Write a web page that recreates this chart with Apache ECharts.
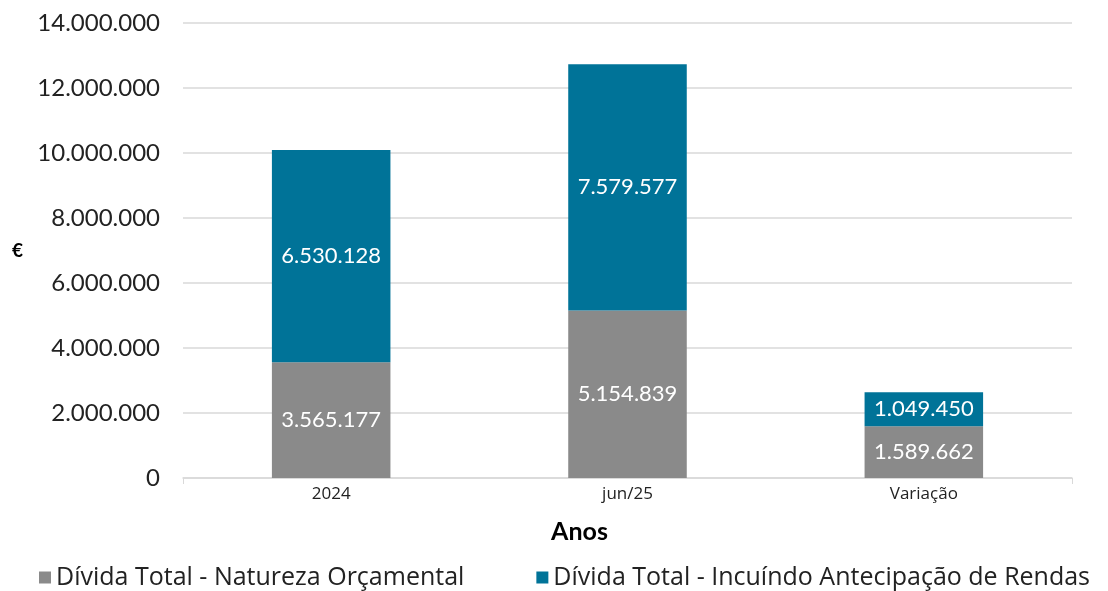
<!DOCTYPE html>
<html>
<head>
<meta charset="utf-8">
<script src="https://cdn.jsdelivr.net/npm/echarts@6/dist/echarts.min.js"></script>
<style>
  html, body { margin: 0; padding: 0; background: #fff; }
  #chart { width: 1108px; height: 591px; }
</style>
</head>
<body>
<div id="chart"></div>
<script>
// dados
const categories = ['2024', 'jun/25', 'Variação'];
const naturezaOrcamental = [3565177, 5154839, 1589662];
const antecipacaoRendas = [6530128, 7579577, 1049450];
const seriesNames = ['Dívida Total - Natureza Orçamental', 'Dívida Total - Incuíndo Antecipação de Rendas'];

const GRAY = '#8a8a8a';
const BLUE = '#007398';
const FONT = 'Lato, "Open Sans", sans-serif';

// 10095305 -> "10.095.305"
const fmt = (v) => String(Math.round(v)).replace(/\B(?=(\d{3})+(?!\d))/g, '.');

const chart = echarts.init(document.getElementById('chart'));

const barLabel = {
  show: true,
  position: 'inside',
  color: '#ffffff',
  fontFamily: FONT,
  fontSize: 22,
  formatter: (p) => fmt(p.value),
};

chart.setOption({
  backgroundColor: '#ffffff',
  animation: false,
  grid: { left: 183, right: 36, top: 23, bottom: 113 },
  legend: {
    bottom: 1,
    left: 39,
    width: 1069,
    padding: 0,
    itemGap: 72,
    itemWidth: 12,
    itemHeight: 12,
    icon: 'rect',
    textStyle: { fontFamily: '"Open Sans", sans-serif', fontSize: 25, color: '#222' },
    data: seriesNames,
  },
  xAxis: {
    type: 'category',
    data: categories,
    name: 'Anos',
    nameLocation: 'middle',
    nameGap: 41,
    nameTextStyle: { fontFamily: FONT, fontSize: 25, fontWeight: 'bold', color: '#000', padding: [0, 96, 0, 0] },
    axisLine: { lineStyle: { color: '#d9d9d9', width: 1.5 } },
    axisTick: { show: true, interval: (i) => i === 0, length: 6, lineStyle: { color: '#d9d9d9' } },
    axisLabel: { fontFamily: '"Open Sans", sans-serif', fontSize: 17, color: '#222', margin: 8 },
  },
  yAxis: {
    type: 'value',
    min: 0,
    max: 14000000,
    interval: 2000000,
    name: '€',
    nameLocation: 'middle',
    nameGap: 160,
    nameRotate: 0,
    nameTextStyle: { fontFamily: FONT, fontSize: 19, fontWeight: 'bold', color: '#000' },
    axisLine: { show: false },
    axisTick: { show: false },
    axisLabel: { fontFamily: FONT, fontSize: 24, color: '#222', margin: 23, formatter: fmt },
    splitLine: { lineStyle: { color: '#d9d9d9', width: 1.5 } },
  },
  series: [
    {
      name: seriesNames[0],
      type: 'bar',
      stack: 'total',
      barWidth: '40%',
      itemStyle: { color: GRAY },
      label: barLabel,
      data: naturezaOrcamental,
    },
    {
      name: seriesNames[1],
      type: 'bar',
      stack: 'total',
      barWidth: '40%',
      itemStyle: { color: BLUE },
      label: barLabel,
      data: antecipacaoRendas,
    },
  ],
});
</script>
</body>
</html>
